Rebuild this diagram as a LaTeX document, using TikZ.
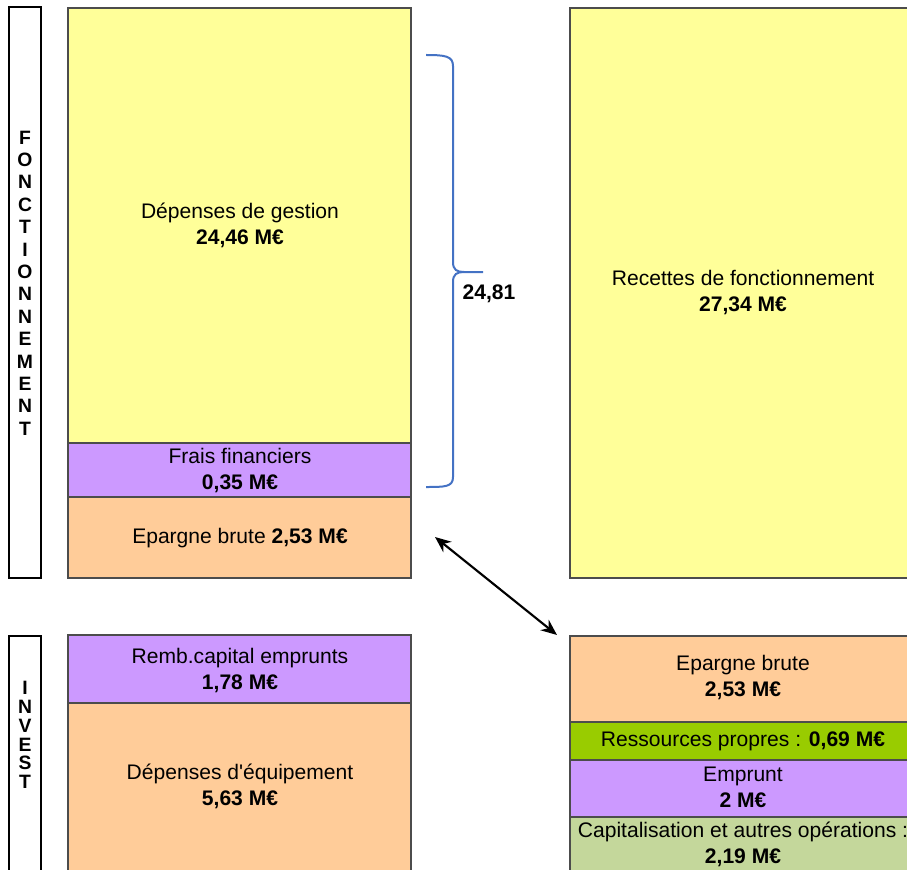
\documentclass[tikz,border=0pt]{standalone}
\usepackage{fontspec}
\setmainfont{Liberation Sans}
\usetikzlibrary{arrows.meta}

\definecolor{jaune}{HTML}{FFFF99}
\definecolor{mauve}{HTML}{CC99FF}
\definecolor{peche}{HTML}{FFCC99}
\definecolor{vertvif}{HTML}{99CC00}
\definecolor{vertpale}{HTML}{C4D79B}
\definecolor{bleuacc}{RGB}{68,114,196}

\begin{document}
\begin{tikzpicture}[x=0.75pt,y=-0.75pt,
    bloc/.style={draw=black!70, line width=0.8pt},
    cadre/.style={draw=black, line width=1.6pt},
    lbl/.style={align=center, inner sep=0pt, font=\fontsize{15.8}{19.5}\selectfont},
    vert/.style={align=center, inner sep=0pt, font=\bfseries\fontsize{14.5}{16.8}\selectfont},
    accolade/.style={draw=bleuacc, line width=1.5pt},
    fleche/.style={{Stealth[length=12pt,width=10pt]}-{Stealth[length=12pt,width=10pt]}, line width=1.6pt}]
        \useasboundingbox (0,0) rectangle (907,870);
        \clip (0,0) rectangle (907,870);
        % fonctionnement
        \draw[cadre] (9,7) rectangle (41,578);
        \node[vert] (fonct) at (25,283) {F\\O\\N\\C\\T\\I\\O\\N\\N\\E\\M\\E\\N\\T};
        \filldraw[bloc, fill=jaune] (68,8) rectangle (411,443);
        \filldraw[bloc, fill=mauve] (68,443) rectangle (411,497);
        \filldraw[bloc, fill=peche] (68,497) rectangle (411,578);
        \filldraw[bloc, fill=jaune] (570,8) rectangle (920,578);
        \node[lbl] (depgest) at (240,225) {Dépenses de gestion\\\textbf{24,46 M€}};
        \node[lbl] (frais) at (240,470) {Frais financiers\\\textbf{0,35 M€}};
        \node[lbl] (epfonct) at (240,538) {Epargne brute \textbf{2,53 M€}};
        \node[lbl] (recettes) at (743,292) {Recettes de fonctionnement\\\textbf{27,34 M€}};
        \draw[accolade] (426,55) .. controls (445,55) and (453,56) .. (453,66) -- (453,262)
            .. controls (453,270) and (457,272) .. (464,272) -- (483,272) -- (464,272)
            .. controls (457,272) and (453,274) .. (453,282) -- (453,477)
            .. controls (453,487) and (445,487) .. (426,487);
        \node[font=\bfseries\fontsize{15.8}{18}\selectfont, inner sep=0pt] (total) at (489,294) {24,81};
        % investissement
        \draw[cadre] (9,636) rectangle (41,885);
        \node[vert, font=\bfseries\fontsize{14.5}{14.1}\selectfont] (invest) at (25,735) {I\\N\\V\\E\\S\\T};
        \filldraw[bloc, fill=mauve] (68,635) rectangle (411,703);
        \filldraw[bloc, fill=peche] (68,703) rectangle (411,885);
        \filldraw[bloc, fill=peche] (570,636) rectangle (920,722);
        \filldraw[bloc, fill=vertvif] (570,722) rectangle (920,760);
        \filldraw[bloc, fill=mauve] (570,760) rectangle (920,817);
        \filldraw[bloc, fill=vertpale] (570,817) rectangle (920,885);
        \node[lbl] (remb) at (240,670) {Remb.capital emprunts\\\textbf{1,78 M€}};
        \node[lbl] (depequip) at (240,786) {Dépenses d\textquotesingle équipement\\\textbf{5,63 M€}};
        \node[lbl] (epinv) at (743,677) {Epargne brute\\\textbf{2,53 M€}};
        \node[lbl] (ressources) at (743,741) {Ressources propres : \textbf{0,69 M€}};
        \node[lbl] (emprunt) at (743,787) {Emprunt\\\textbf{2 M€}};
        \node[lbl] (capital) at (743,844) {Capitalisation et autres opérations :\\\textbf{2,19 M€}};
        % lien epargne
        \coordinate (flA) at (435,537);
        \coordinate (flB) at (557,635);
        \draw[fleche] (flA) -- (flB);
    \end{tikzpicture}
\end{document}
